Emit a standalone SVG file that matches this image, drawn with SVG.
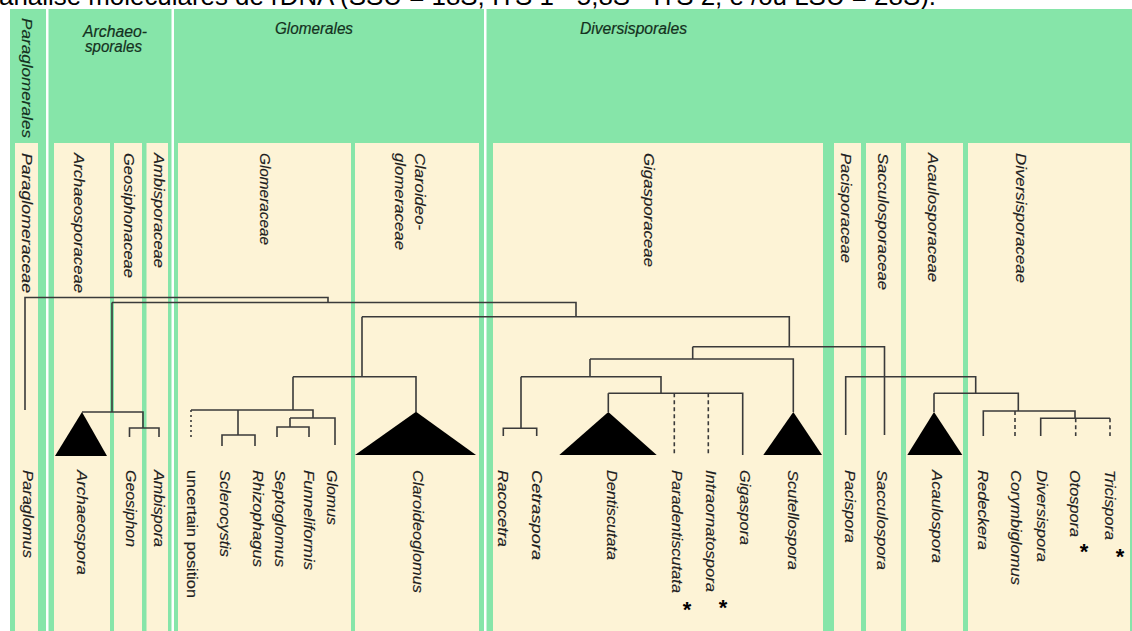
<svg xmlns="http://www.w3.org/2000/svg" width="1132" height="631" viewBox="0 0 1132 631">
<style>
.pan{fill:#FDF3D6}
.hd{font-family:"Liberation Sans",Arial,sans-serif;font-style:italic;font-size:16px;fill:#143020;text-anchor:middle;stroke:#143020;stroke-width:0.2}
.lb{font-family:"Liberation Sans",Arial,sans-serif;font-style:italic;font-size:15px;fill:#1e1e1e;stroke:#1e1e1e;stroke-width:0.15}
.up{font-style:normal}
.ln{fill:none;stroke:#3a3a3a;stroke-width:1.6}
.dash{stroke-dasharray:4 3}
.dot{stroke-dasharray:2 3}
.tri{fill:#000}
.star{font-family:"Liberation Sans",Arial,sans-serif;font-weight:bold;font-size:22px;fill:#000;text-anchor:middle}
</style>
<rect width="1132" height="631" fill="#fff"/>
<text x="-1" y="5" font-family="Liberation Sans, Arial, sans-serif" font-size="26" fill="#000" textLength="937" lengthAdjust="spacingAndGlyphs">análise moleculares de rDNA (SSU = 18S; ITS 1 - 5,8S - ITS 2; e /ou LSU = 28S).</text>

<g id="background">
<rect x="10" y="9" width="1122" height="622" fill="#86E5A9"/>
<rect x="46" y="9" width="2.5" height="622" fill="#fff"/>
<rect x="171.5" y="9" width="2.5" height="622" fill="#fff"/>
<rect x="484" y="9" width="2.5" height="622" fill="#fff"/>
<rect class="pan" x="15" y="143" width="23" height="488"/>
<rect class="pan" x="54" y="143" width="56" height="488"/>
<rect class="pan" x="114" y="143" width="28" height="488"/>
<rect class="pan" x="146.5" y="143" width="21.5" height="488"/>
<rect class="pan" x="178" y="143" width="173" height="488"/>
<rect class="pan" x="355" y="143" width="124" height="488"/>
<rect class="pan" x="493" y="143" width="330" height="488"/>
<rect class="pan" x="834" y="143" width="27" height="488"/>
<rect class="pan" x="866" y="143" width="35" height="488"/>
<rect class="pan" x="906" y="143" width="57" height="488"/>
<rect class="pan" x="968" y="143" width="162" height="488"/>
</g>

<g id="orders">
<text class="lb" transform="translate(21.5,18) rotate(90)" textLength="120" lengthAdjust="spacingAndGlyphs" style="fill:#143020;stroke:#143020">Paraglomerales</text>
<text class="hd" x="115" y="36.5" textLength="64" lengthAdjust="spacingAndGlyphs">Archaeo-</text>
<text class="hd" x="113.5" y="52" textLength="57" lengthAdjust="spacingAndGlyphs">sporales</text>
<text class="hd" x="314" y="33.5" textLength="78" lengthAdjust="spacingAndGlyphs">Glomerales</text>
<text class="hd" x="633.5" y="33.5" textLength="107" lengthAdjust="spacingAndGlyphs">Diversisporales</text>
</g>

<g id="families">
<text class="lb" transform="translate(21.5,153) rotate(90)" textLength="140" lengthAdjust="spacingAndGlyphs">Paraglomeraceae</text>
<text class="lb" transform="translate(73.5,153) rotate(90)" textLength="140" lengthAdjust="spacingAndGlyphs">Archaeosporaceae</text>
<text class="lb" transform="translate(123.5,153) rotate(90)" textLength="125" lengthAdjust="spacingAndGlyphs">Geosiphonaceae</text>
<text class="lb" transform="translate(153.5,153) rotate(90)" textLength="115" lengthAdjust="spacingAndGlyphs">Ambisporaceae</text>
<text class="lb" transform="translate(259.5,153) rotate(90)" textLength="92" lengthAdjust="spacingAndGlyphs">Glomeraceae</text>
<text class="lb" transform="translate(414.5,153) rotate(90)" textLength="77" lengthAdjust="spacingAndGlyphs">Claroideo-</text>
<text class="lb" transform="translate(394.5,153) rotate(90)" textLength="97" lengthAdjust="spacingAndGlyphs">glomeraceae</text>
<text class="lb" transform="translate(643.5,153) rotate(90)" textLength="114" lengthAdjust="spacingAndGlyphs">Gigasporaceae</text>
<text class="lb" transform="translate(840.5,153) rotate(90)" textLength="110" lengthAdjust="spacingAndGlyphs">Pacisporaceae</text>
<text class="lb" transform="translate(877.5,153) rotate(90)" textLength="137" lengthAdjust="spacingAndGlyphs">Sacculosporaceae</text>
<text class="lb" transform="translate(927.5,153) rotate(90)" textLength="129" lengthAdjust="spacingAndGlyphs">Acaulosporaceae</text>
<text class="lb" transform="translate(1015.5,153) rotate(90)" textLength="130" lengthAdjust="spacingAndGlyphs">Diversisporaceae</text>
</g>

<g id="connectors">
<path class="ln" d="M25,410 V297.5 H328 V302.5 M112,302.5 H576 V316.7 M362,316.7 H789.3 V346.7"/>
<path class="ln" d="M112,302.5 V412 M82,412 H143 V428 M129.5,437 V428 H159 V437"/>
<path class="ln" d="M362,316.7 V376.7 M293,376.7 H416 V412 M293,376.7 V410 M191,410 H313 V418 M238,410 V435 M222,446 V435 H255 V446 M290,418 H335 V445 M290,418 V427 M277,437 V427 H309 V437"/>
<path class="ln dot" d="M191,410 V437"/>
<path class="ln" d="M692.7,346.7 H884.5 V435 M692.7,346.7 V359 M590,359 H793.3 V412 M590,359 V376.7 M521,376.7 H661 V393.3 M521,376.7 V428.3 M503.3,436 V428.3 H536.7 V436 M608.3,393.3 H742.7 V455 M608.3,393.3 V412"/>
<path class="ln dash" d="M674.3,393.3 V455 M708.3,393.3 V455"/>
<path class="ln" d="M845.7,435 V376.7 H975.7 V393.3 M934,393.3 H1018.3 V411 M934,393.3 V412 M983.3,436 V411 H1075 V418.3 M1040.7,436 V418.3 H1110"/>
<path class="ln dash" d="M1015,411 V436 M1075.7,418.3 V436 M1110,418.3 V436"/>
</g>

<g id="paraglomus"><text class="lb" transform="translate(22.5,470) rotate(90)" textLength="88" lengthAdjust="spacingAndGlyphs">Paraglomus</text></g>
<g id="archaeospora"><polygon class="tri" points="82,412 55,456 107,456"/><text class="lb" transform="translate(76.5,470) rotate(90)" textLength="105" lengthAdjust="spacingAndGlyphs">Archaeospora</text></g>
<g id="geosiphon"><text class="lb" transform="translate(125.5,470) rotate(90)" textLength="77" lengthAdjust="spacingAndGlyphs">Geosiphon</text></g>
<g id="ambispora"><text class="lb" transform="translate(153.5,470) rotate(90)" textLength="77" lengthAdjust="spacingAndGlyphs">Ambispora</text></g>
<g id="uncertain"><text class="lb up" transform="translate(186.5,470) rotate(90)" textLength="128" lengthAdjust="spacingAndGlyphs">uncertain position</text></g>
<g id="sclerocystis"><text class="lb" transform="translate(219.5,470) rotate(90)" textLength="87" lengthAdjust="spacingAndGlyphs">Sclerocystis</text></g>
<g id="rhizophagus"><text class="lb" transform="translate(252.5,470) rotate(90)" textLength="97" lengthAdjust="spacingAndGlyphs">Rhizophagus</text></g>
<g id="septoglomus"><text class="lb" transform="translate(274.5,470) rotate(90)" textLength="97" lengthAdjust="spacingAndGlyphs">Septoglomus</text></g>
<g id="funneliformis"><text class="lb" transform="translate(303.5,470) rotate(90)" textLength="100" lengthAdjust="spacingAndGlyphs">Funneliformis</text></g>
<g id="glomus"><text class="lb" transform="translate(326.5,470) rotate(90)" textLength="55" lengthAdjust="spacingAndGlyphs">Glomus</text></g>
<g id="claroideoglomus"><polygon class="tri" points="416,411.7 355,455 476,455"/><text class="lb" transform="translate(412.5,470) rotate(90)" textLength="123" lengthAdjust="spacingAndGlyphs">Claroideoglomus</text></g>
<g id="racocetra"><text class="lb" transform="translate(497.5,470) rotate(90)" textLength="77" lengthAdjust="spacingAndGlyphs">Racocetra</text></g>
<g id="cetraspora"><text class="lb" transform="translate(531.5,470) rotate(90)" textLength="90" lengthAdjust="spacingAndGlyphs">Cetraspora</text></g>
<g id="dentiscutata"><polygon class="tri" points="608.3,412 559.3,455 656.7,455"/><text class="lb" transform="translate(606.5,470) rotate(90)" textLength="90" lengthAdjust="spacingAndGlyphs">Dentiscutata</text></g>
<g id="paradentiscutata"><text class="lb" transform="translate(671.5,470) rotate(90)" textLength="123" lengthAdjust="spacingAndGlyphs">Paradentiscutata</text><text class="star" x="687" y="617">*</text></g>
<g id="intraornatospora"><text class="lb" transform="translate(705.5,470) rotate(90)" textLength="122" lengthAdjust="spacingAndGlyphs">Intraornatospora</text><text class="star" x="723" y="614.5">*</text></g>
<g id="gigaspora"><text class="lb" transform="translate(739.5,470) rotate(90)" textLength="75" lengthAdjust="spacingAndGlyphs">Gigaspora</text></g>
<g id="scutellospora"><polygon class="tri" points="793.3,412 763.3,455 822,455"/><text class="lb" transform="translate(787.5,470) rotate(90)" textLength="100" lengthAdjust="spacingAndGlyphs">Scutellospora</text></g>
<g id="pacispora"><text class="lb" transform="translate(844.5,470) rotate(90)" textLength="73" lengthAdjust="spacingAndGlyphs">Pacispora</text></g>
<g id="sacculospora"><text class="lb" transform="translate(876.5,470) rotate(90)" textLength="100" lengthAdjust="spacingAndGlyphs">Sacculospora</text></g>
<g id="acaulospora"><polygon class="tri" points="934,412 907.3,455 962.3,455"/><text class="lb" transform="translate(931.5,470) rotate(90)" textLength="93" lengthAdjust="spacingAndGlyphs">Acaulospora</text></g>
<g id="redeckera"><text class="lb" transform="translate(977.5,470) rotate(90)" textLength="80" lengthAdjust="spacingAndGlyphs">Redeckera</text></g>
<g id="corymbiglomus"><text class="lb" transform="translate(1010.5,470) rotate(90)" textLength="115" lengthAdjust="spacingAndGlyphs">Corymbiglomus</text></g>
<g id="diversispora"><text class="lb" transform="translate(1036.5,470) rotate(90)" textLength="92" lengthAdjust="spacingAndGlyphs">Diversispora</text></g>
<g id="otospora"><text class="lb" transform="translate(1069.5,470) rotate(90)" textLength="67" lengthAdjust="spacingAndGlyphs">Otospora</text><text class="star" x="1084" y="559">*</text></g>
<g id="tricispora"><text class="lb" transform="translate(1104.5,470) rotate(90)" textLength="70" lengthAdjust="spacingAndGlyphs">Tricispora</text><text class="star" x="1120" y="564">*</text></g>
</svg>
